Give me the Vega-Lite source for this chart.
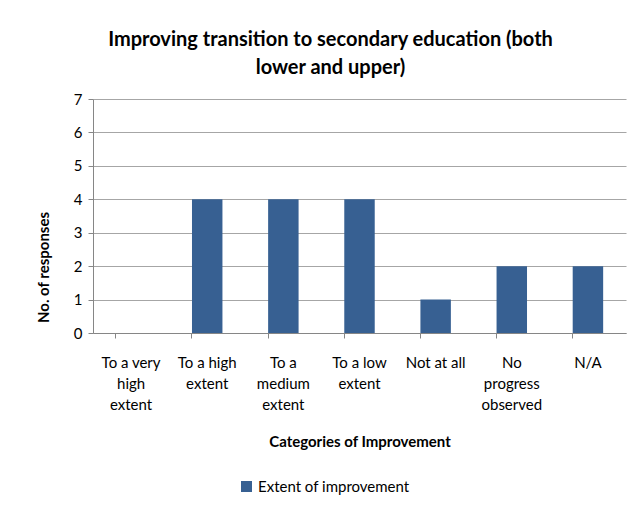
{
  "$schema": "https://vega.github.io/schema/vega-lite/v6.json",
  "width": 533,
  "height": 234,
  "autosize": {"type": "none"},
  "padding": {"left": 93, "top": 99, "right": 11, "bottom": 175},
  "background": "white",
  "title": {
    "text": ["Improving transition to secondary education (both", "lower and upper)"],
    "anchor": "middle",
    "dx": -29,
    "offset": 14,
    "font": "Lato",
    "fontSize": 20,
    "fontWeight": "bold",
    "color": "#000000",
    "lineHeight": 28
  },
  "data": {
    "values": [
      {"category": "To a very high extent", "responses": 0, "series": "Extent of improvement"},
      {"category": "To a high extent", "responses": 4, "series": "Extent of improvement"},
      {"category": "To a medium extent", "responses": 4, "series": "Extent of improvement"},
      {"category": "To a low extent", "responses": 4, "series": "Extent of improvement"},
      {"category": "Not at all", "responses": 1, "series": "Extent of improvement"},
      {"category": "No progress observed", "responses": 2, "series": "Extent of improvement"},
      {"category": "N/A", "responses": 2, "series": "Extent of improvement"}
    ]
  },
  "mark": {"type": "bar"},
  "encoding": {
    "x": {
      "field": "category",
      "type": "nominal",
      "sort": null,
      "scale": {"paddingInner": 0.6, "paddingOuter": 0.3},
      "axis": {
        "title": "Categories of Improvement",
        "titleFont": "Lato",
        "titleFontSize": 15,
        "titleFontWeight": "bold",
        "titleColor": "#000000",
        "titlePadding": 22,
        "labelAngle": 0,
        "labelFont": "Lato",
        "labelFontSize": 15,
        "labelColor": "#000000",
        "labelLineHeight": 21,
        "labelPadding": 17,
        "labelLimit": 200,
        "labelExpr": "datum.value == 'To a very high extent' ? ['To a very', 'high', 'extent'] : datum.value == 'To a high extent' ? ['To a high', 'extent'] : datum.value == 'To a medium extent' ? ['To a', 'medium', 'extent'] : datum.value == 'To a low extent' ? ['To a low', 'extent'] : datum.value == 'No progress observed' ? ['No', 'progress', 'observed'] : datum.value",
        "bandPosition": 0,
        "tickColor": "#868686",
        "tickSize": 5,
        "domainColor": "#868686",
        "grid": false
      }
    },
    "y": {
      "field": "responses",
      "type": "quantitative",
      "scale": {"domain": [0, 7], "nice": false},
      "axis": {
        "title": "No. of responses",
        "titleFont": "Lato",
        "titleFontSize": 15,
        "titleFontWeight": "bold",
        "titleColor": "#000000",
        "titlePadding": 22,
        "titleY": 168,
        "values": [0, 1, 2, 3, 4, 5, 6, 7],
        "labelFont": "Lato",
        "labelFontSize": 15,
        "labelColor": "#000000",
        "labelPadding": 6,
        "tickColor": "#868686",
        "tickSize": 5,
        "domainColor": "#868686",
        "gridColor": "#A6A6A6",
        "gridWidth": 1.2
      }
    },
    "color": {
      "field": "series",
      "type": "nominal",
      "scale": {"range": ["#376092"]},
      "legend": {
        "title": null,
        "orient": "none",
        "legendX": 146,
        "legendY": 380,
        "symbolType": "square",
        "symbolSize": 121,
        "symbolStrokeWidth": 0,
        "labelFont": "Lato",
        "labelFontSize": 15,
        "labelColor": "#000000"
      }
    }
  },
  "config": {
    "view": {"stroke": null}
  }
}
